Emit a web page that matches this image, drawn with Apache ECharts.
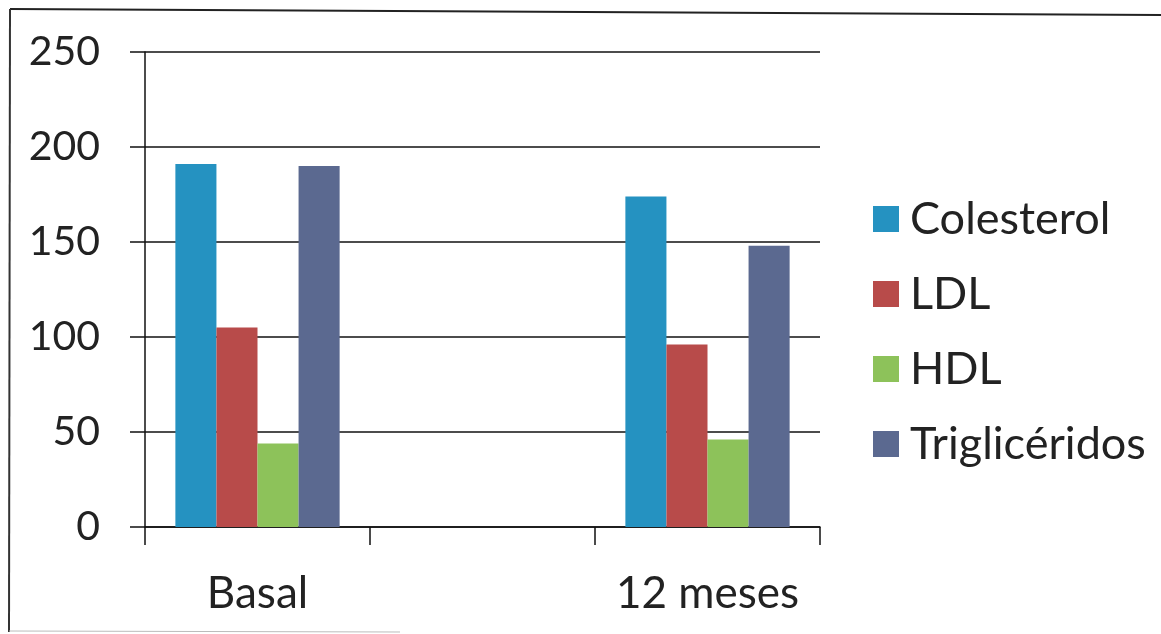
<!DOCTYPE html>
<html>
<head>
<meta charset="utf-8">
<script src="https://cdn.jsdelivr.net/npm/echarts@6/dist/echarts.min.js"></script>
<style>
  html, body { margin: 0; padding: 0; background: #fff; }
  #chart { width: 1161px; height: 634px; }
</style>
</head>
<body>
<div id="chart"></div>
<script>
// Lipid profile at baseline and after 12 months (middle slot left empty)
const categories = ['Basal', '', '12 meses'];
const seriesNames = ['Colesterol', 'LDL', 'HDL', 'Triglicéridos'];
const colesterol = [191, null, 174];
const ldl = [105, null, 96];
const hdl = [44, null, 46];
const trigliceridos = [190, null, 148];
const yTicks = { min: 0, max: 250, interval: 50 };
const colors = ['#2592c1', '#b84b4a', '#8dc25a', '#5b6990'];

const textColor = '#222222';
const fontFamily = 'Lato, "Open Sans", sans-serif';

const chart = echarts.init(document.getElementById('chart'), null, { renderer: 'canvas' });

const values = [colesterol, ldl, hdl, trigliceridos];

chart.setOption({
  animation: false,
  color: colors,
  textStyle: { fontFamily: fontFamily, color: textColor },
  graphic: [
    // frame edges
    { type: 'line', shape: { x1: 10, y1: 9, x2: 1161, y2: 15 }, style: { stroke: '#222', lineWidth: 2 } },
    { type: 'line', shape: { x1: 10, y1: 9, x2: 9, y2: 632 }, style: { stroke: '#333', lineWidth: 2 } },
    { type: 'line', shape: { x1: 9, y1: 631, x2: 400, y2: 632 }, style: { stroke: '#bbb', lineWidth: 1 } }
  ],
  grid: { left: 145, right: 341, top: 52, bottom: 107, containLabel: false },
  legend: {
    orient: 'vertical',
    left: 868,
    top: 191,
    icon: 'rect',
    itemWidth: 26,
    itemHeight: 26,
    itemGap: 29,
    data: seriesNames,
    textStyle: { fontSize: 45, color: textColor, fontFamily: fontFamily, lineHeight: 46, padding: [0, 0, 0, 6] }
  },
  xAxis: {
    type: 'category',
    data: categories,
    axisLine: { show: true, lineStyle: { color: '#111', width: 1.5 } },
    axisTick: { show: true, length: 18, alignWithLabel: false, lineStyle: { color: '#111', width: 1.5 } },
    axisLabel: { fontSize: 44, color: textColor, margin: 45, interval: 0 },
    splitLine: { show: false }
  },
  yAxis: {
    type: 'value',
    min: yTicks.min,
    max: yTicks.max,
    interval: yTicks.interval,
    axisLine: { show: true, lineStyle: { color: '#111', width: 1.5 } },
    axisTick: { show: true, length: 15, lineStyle: { color: '#111', width: 1.5 } },
    axisLabel: { fontSize: 41, color: textColor, margin: 45 },
    splitLine: { show: true, lineStyle: { color: '#111', width: 1.5 } }
  },
  series: seriesNames.map((name, i) => ({
    name: name,
    type: 'bar',
    data: values[i],
    barGap: '0%',
    barCategoryGap: '27%',
    itemStyle: { color: colors[i] }
  }))
});
</script>
</body>
</html>
